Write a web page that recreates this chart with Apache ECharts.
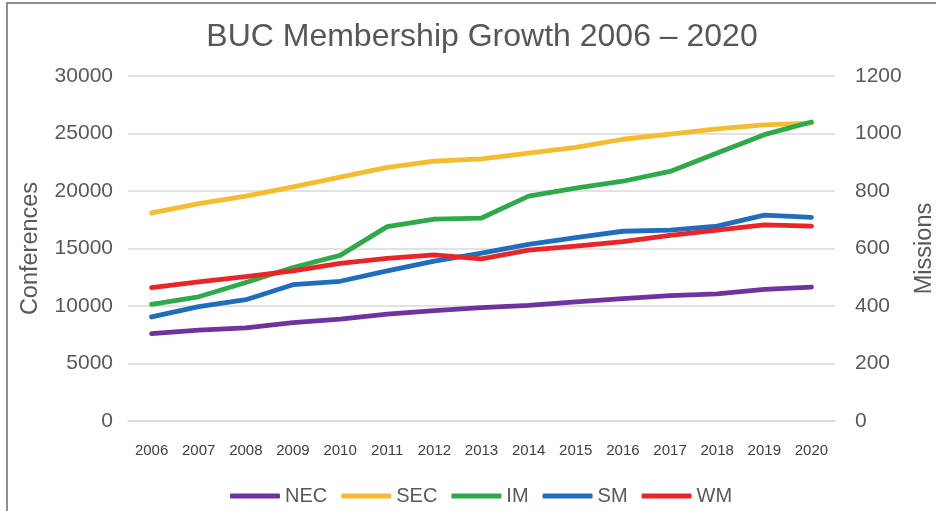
<!DOCTYPE html>
<html>
<head>
<meta charset="utf-8">
<script src="https://cdn.jsdelivr.net/npm/echarts@6/dist/echarts.min.js"></script>
<style>
html,body{margin:0;padding:0;background:#fff;}
#c{width:936px;height:511px;}
</style>
</head>
<body>
<div id="c"></div>
<script>
var years = ['2006','2007','2008','2009','2010','2011','2012','2013','2014','2015','2016','2017','2018','2019','2020'];
var NEC = [7600, 7900, 8100, 8550, 8850, 9300, 9600, 9850, 10050, 10350, 10650, 10900, 11050, 11450, 11650];
var SEC = [18100, 18900, 19550, 20350, 21200, 22050, 22600, 22800, 23300, 23800, 24500, 24950, 25400, 25750, 25900];
var IM  = [10150, 10800, 12050, 13350, 14400, 16900, 17550, 17650, 19550, 20250, 20850, 21700, 23300, 24900, 26000];
var SM  = [9050, 9950, 10550, 11850, 12150, 13050, 13900, 14600, 15350, 15950, 16500, 16600, 16950, 17900, 17700];
var WM  = [11600, 12100, 12550, 13050, 13700, 14150, 14450, 14100, 14850, 15200, 15600, 16150, 16600, 17050, 16950];
var seriesNames = ['NEC','SEC','IM','SM','WM'];
var seriesData = [NEC, SEC, IM, SM, WM];
var colors = ['#6F32A0','#F6BC2F','#2FAA4B','#1F6DBF','#EC2427'];

var FONT = 'Liberation Sans';
var chart = echarts.init(document.getElementById('c'), null, {renderer:'canvas'});
var series = seriesNames.map(function(n, i){
  return {
    name: n, type: 'line', yAxisIndex: 0, data: seriesData[i],
    symbol: 'none', smooth: false,
    lineStyle: {width: 4.8, color: colors[i], cap: 'round', join: 'round'},
    itemStyle: {color: colors[i]},
    z: 2 + i
  };
});
function plain(v){ return String(v); }
chart.setOption({
  animation: false,
  backgroundColor: '#fff',
  title: {
    text: 'BUC Membership Growth 2006 – 2020',
    left: 477, top: 16, textAlign: 'center',
    textStyle: {fontFamily: FONT, fontSize: 32, fontWeight: 'normal', color: '#575757'}
  },
  graphic: [{
    type: 'rect', shape: {x: 7, y: 3, width: 960, height: 540},
    style: {fill: 'none', stroke: '#6b6b6b', lineWidth: 1.5}, silent: true
  }],
  legend: {
    data: seriesNames, left: 225, top: 481, itemGap: 14,
    itemWidth: 50, itemHeight: 5, icon: 'roundRect',
    textStyle: {fontFamily: FONT, fontSize: 20, color: '#595959'}
  },
  grid: {left: 128, right: 101, top: 76, bottom: 90, containLabel: false, outerBoundsMode: 'none'},
  xAxis: {
    type: 'category', data: years, boundaryGap: true,
    axisLine: {lineStyle: {color: '#D9D9D9', width: 1.5}},
    axisTick: {show: false},
    axisLabel: {fontFamily: FONT, fontSize: 15, color: '#404040', margin: 22, interval: 0}
  },
  yAxis: [{
    type: 'value', min: 0, max: 30000, interval: 5000, position: 'left',
    name: 'Conferences', nameLocation: 'middle', nameGap: 85, nameRotate: 90,
    nameTextStyle: {fontFamily: FONT, fontSize: 23.5, color: '#595959'},
    axisLine: {show: false}, axisTick: {show: false},
    axisLabel: {fontFamily: FONT, fontSize: 21, color: '#595959', margin: 15, formatter: plain},
    splitLine: {lineStyle: {color: '#D9D9D9', width: 1.5}}
  }, {
    type: 'value', min: 0, max: 1200, interval: 200, position: 'right',
    name: 'Missions', nameLocation: 'middle', nameGap: 78, nameRotate: 90,
    nameTextStyle: {fontFamily: FONT, fontSize: 23.5, color: '#595959'},
    axisLine: {show: false}, axisTick: {show: false},
    axisLabel: {fontFamily: FONT, fontSize: 21, color: '#595959', margin: 20, formatter: plain},
    splitLine: {show: false}
  }],
  series: series
});
</script>
</body>
</html>
